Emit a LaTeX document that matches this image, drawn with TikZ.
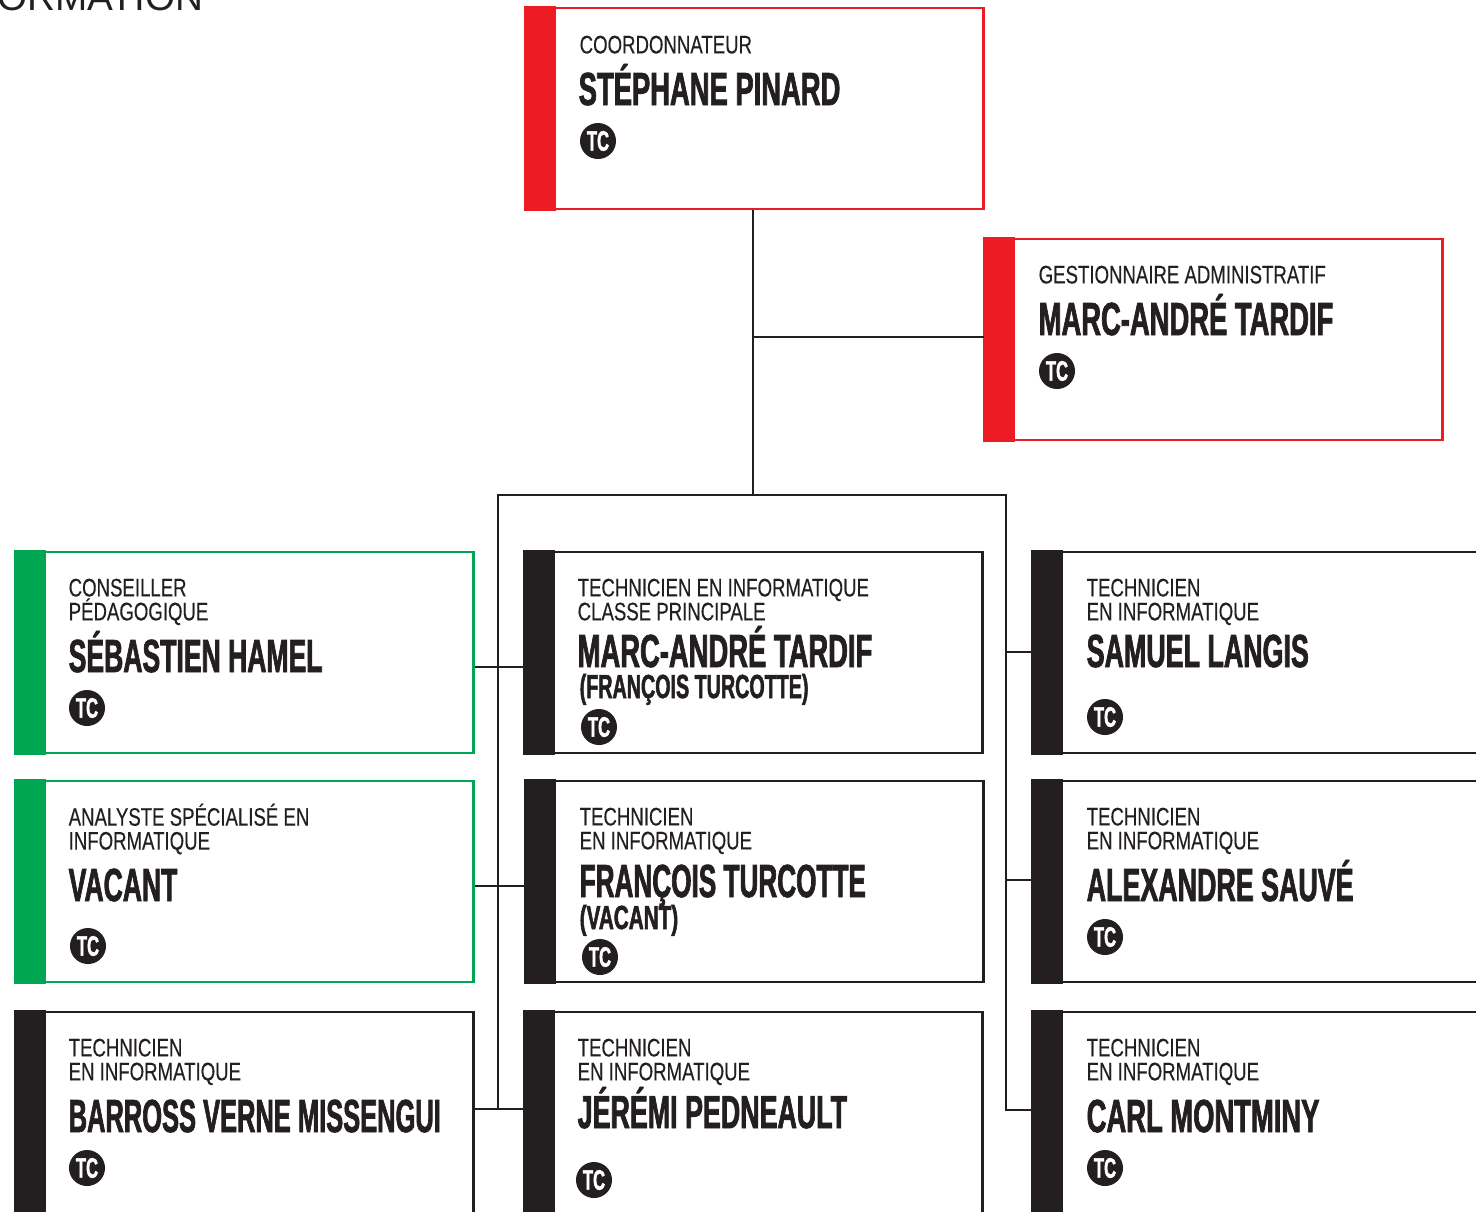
\documentclass[tikz,border=0pt]{standalone}
\usepackage{fontspec}
\usepackage{xcolor}
\usepackage{tikz}
\setmainfont{Liberation Sans}
\newfontfamily\rolefont[FakeStretch=0.735,FakeBold=0.3]{Liberation Sans}
\newfontfamily\namefont[FakeStretch=0.59,FakeBold=1.5]{Liberation Sans}
\definecolor{cardblack}{HTML}{231F20}
\definecolor{cardred}{HTML}{ED1C24}
\definecolor{cardgreen}{HTML}{00A651}
\tikzset{
  card/.style={draw=#1, line width=0.65pt, anchor=north west, inner sep=0pt, minimum width=4.57cm, minimum height=2.01cm},
  role/.style={anchor=north west, inner sep=0pt, align=left, text=cardblack, font=\rolefont\fontsize{7.2}{6.8}\selectfont},
  person/.style={anchor=base west, inner sep=0pt, text=cardblack, font=\namefont\bfseries\fontsize{13.2}{13}\selectfont},
  stand/.style={anchor=base west, inner sep=0pt, text=cardblack, font=\namefont\bfseries\fontsize{9.5}{10}\selectfont},
  badge/.style={circle, fill=cardblack, text=white, inner sep=0pt, minimum size=0.36cm, font=\namefont\bfseries\fontsize{8}{8}\selectfont},
  link/.style={draw=cardblack, line width=0.8pt},
}

\begin{document}
\begin{tikzpicture}[x=0.01cm, y=-0.01cm]
  \path[use as bounding box, clip] (0,0) rectangle (1476,1211);

  \node[anchor=base west, inner sep=0pt, text=cardblack, font=\fontsize{11}{12}\selectfont] (heading) at (-3,10) {ORMATION};

  % boxes
  \node[card=cardred] (coord) at (525,7) {};
  \node[card=cardred] (gest) at (984,238) {};
  \node[card=cardgreen] (cons) at (15,551) {};
  \node[card=cardgreen] (anal) at (15,780) {};
  \node[card=cardblack] (barr) at (15,1011) [minimum height=4cm] {};
  \node[card=cardblack] (tecp) at (524,551) {};
  \node[card=cardblack] (fran) at (525,780) {};
  \node[card=cardblack] (jere) at (524,1011) [minimum height=4cm] {};
  \node[card=cardblack] (samu) at (1032,551) [minimum width=6cm] {};
  \node[card=cardblack] (alex) at (1032,780) [minimum width=6cm] {};
  \node[card=cardblack] (carl) at (1032,1011) [minimum width=6cm, minimum height=4cm] {};

  \foreach \Box/\Tone in {coord/cardred, gest/cardred, cons/cardgreen, anal/cardgreen, barr/cardblack, tecp/cardblack, fran/cardblack, jere/cardblack, samu/cardblack, alex/cardblack, carl/cardblack}{
    \fill[\Tone] ([shift={(-1,-1)}]\Box.north west) rectangle ([xshift=0.305cm, yshift=-0.01cm]\Box.south west);
  };

  % roles
  \node[role] (coordrole) at (579,35) {COORDONNATEUR};
  \node[role] (gestrole) at (1038,265) {GESTIONNAIRE ADMINISTRATIF};
  \node[role] (consrole) at (68,578) {CONSEILLER\\PÉDAGOGIQUE};
  \node[role] (analrole) at (68,803) {ANALYSTE SPÉCIALISÉ EN\\INFORMATIQUE};
  \node[role] (tecprole) at (577,578) {TECHNICIEN EN INFORMATIQUE\\CLASSE PRINCIPALE};
  \foreach \Box/\X/\Y in {barr/68/1038, fran/579/807, jere/577/1038, samu/1086/578, alex/1086/807, carl/1086/1038}{
    \node[role] (\Box role) at (\X,\Y) {TECHNICIEN\\EN INFORMATIQUE};
  };

  % names
  \node[person] (coordname) at (578,105) {STÉPHANE PINARD};
  \node[person] (gestname) at (1038,335) {MARC-ANDRÉ TARDIF};
  \node[person] (consname) at (68,672) {\scalebox{0.97}[1]{SÉBASTIEN HAMEL}};
  \node[person] (analname) at (68,901) {\scalebox{0.97}[1]{VACANT}};
  \node[person] (barrname) at (68,1132) {\scalebox{0.93}[1]{BARROSS VERNE MISSENGUI}};
  \node[person] (tecpname) at (577,667) {MARC-ANDRÉ TARDIF};
  \node[stand] (tecpback) at (579,698) {(FRANÇOIS TURCOTTE)};
  \node[person] (franname) at (579,897) {\scalebox{0.955}[1]{FRANÇOIS TURCOTTE}};
  \node[stand] (franback) at (579,929) {\scalebox{1.05}[1]{(VACANT)}};
  \node[person] (jerename) at (577,1128) {\scalebox{0.98}[1]{JÉRÉMI PEDNEAULT}};
  \node[person] (samuname) at (1086,667) {\scalebox{0.98}[1]{SAMUEL LANGIS}};
  \node[person] (alexname) at (1086,901) {\scalebox{0.98}[1]{ALEXANDRE SAUVÉ}};
  \node[person] (carlname) at (1086,1132) {CARL MONTMINY};

  \foreach \Box/\X/\Y in {coord/598/141, gest/1057/371, cons/87/708, anal/88/946, barr/87/1168, tecp/599/727, fran/600/957, jere/594/1180, samu/1105/717, alex/1105/937, carl/1105/1168}{
    \node[badge] (\Box tc) at (\X,\Y) {TC};
  };

  % connectors
  \coordinate (busleft) at (498,495);
  \coordinate (busright) at (1006,495);
  \coordinate (busmid) at (753,495);
  \coordinate (branch) at (753,337);
  \coordinate (leftfoot) at (498,1109);
  \coordinate (rightfoot) at (1006,1110);
  \coordinate (linka) at (498,667);
  \coordinate (linkb) at (498,886);
  \coordinate (linkc) at (1006,652);
  \coordinate (linkd) at (1006,880);

  \draw[link] (coord.south -| busmid) -- (busmid);
  \draw[link] (branch) -- (gest.west |- branch);
  \draw[link, line cap=rect] (leftfoot) -- (busleft) -- (busright) -- (rightfoot);
  \draw[link] (cons.east |- linka) -- (tecp.west |- linka);
  \draw[link] (anal.east |- linkb) -- (fran.west |- linkb);
  \draw[link] (barr.east |- leftfoot) -- (jere.west |- leftfoot);
  \draw[link] (linkc) -- (samu.west |- linkc);
  \draw[link] (linkd) -- (alex.west |- linkd);
  \draw[link] (rightfoot) -- (carl.west |- rightfoot);

\end{tikzpicture}
\end{document}
